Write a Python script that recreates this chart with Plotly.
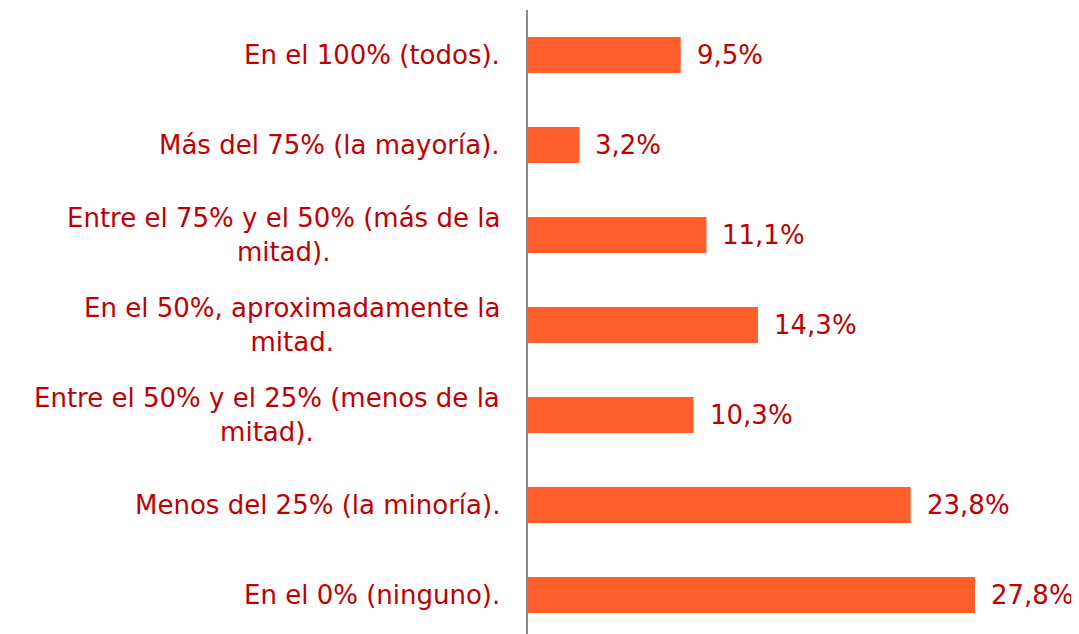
import plotly.graph_objects as go

categories = [
    "En el 100% (todos).",
    "Más del 75% (la mayoría).",
    "Entre el 75% y el 50% (más de la<br>mitad).",
    "En el 50%, aproximadamente la<br>mitad.",
    "Entre el 50% y el 25% (menos de la<br>mitad).",
    "Menos del 25% (la minoría).",
    "En el 0% (ninguno).",
]
values = [9.5, 3.2, 11.1, 14.3, 10.3, 23.8, 27.8]
value_labels = ["9,5%", "3,2%", "11,1%", "14,3%", "10,3%", "23,8%", "27,8%"]

BAR = "#FF5F2D"
TXT = "#C00000"
FONT = "DejaVu Sans"
FS = 26

idx = list(range(len(categories)))

fig = go.Figure(go.Bar(
    x=values, y=idx, orientation="h", width=0.4,
    marker=dict(color=BAR, line=dict(width=0)),
    hoverinfo="skip",
))

annotations = []
for i, (c, v, lab) in enumerate(zip(categories, values, value_labels)):
    annotations.append(dict(
        x=0, y=i, xref="x", yref="y", text=c, showarrow=False,
        xanchor="right", yanchor="middle", align="center", xshift=-26,
        font=dict(family=FONT, size=FS, color=TXT),
    ))
    annotations.append(dict(
        x=v, y=i, xref="x", yref="y", text=lab, showarrow=False,
        xanchor="left", yanchor="middle", xshift=14,
        font=dict(family=FONT, size=FS, color=TXT),
    ))

fig.update_layout(
    width=1079, height=634,
    margin=dict(l=520, r=0, t=2, b=0),
    paper_bgcolor="white", plot_bgcolor="white",
    showlegend=False,
    annotations=annotations,
    xaxis=dict(range=[0, 559 / 16.08], showgrid=False, zeroline=False,
               showticklabels=False, showline=False, fixedrange=True),
    yaxis=dict(range=[-0.5 + 632 / 90, -0.5], showgrid=False, zeroline=False,
               showticklabels=False, showline=True, linecolor="#888888",
               linewidth=2, ticks="", fixedrange=True),
    font=dict(family=FONT, size=FS, color=TXT),
)

fig.write_html("out.html")
